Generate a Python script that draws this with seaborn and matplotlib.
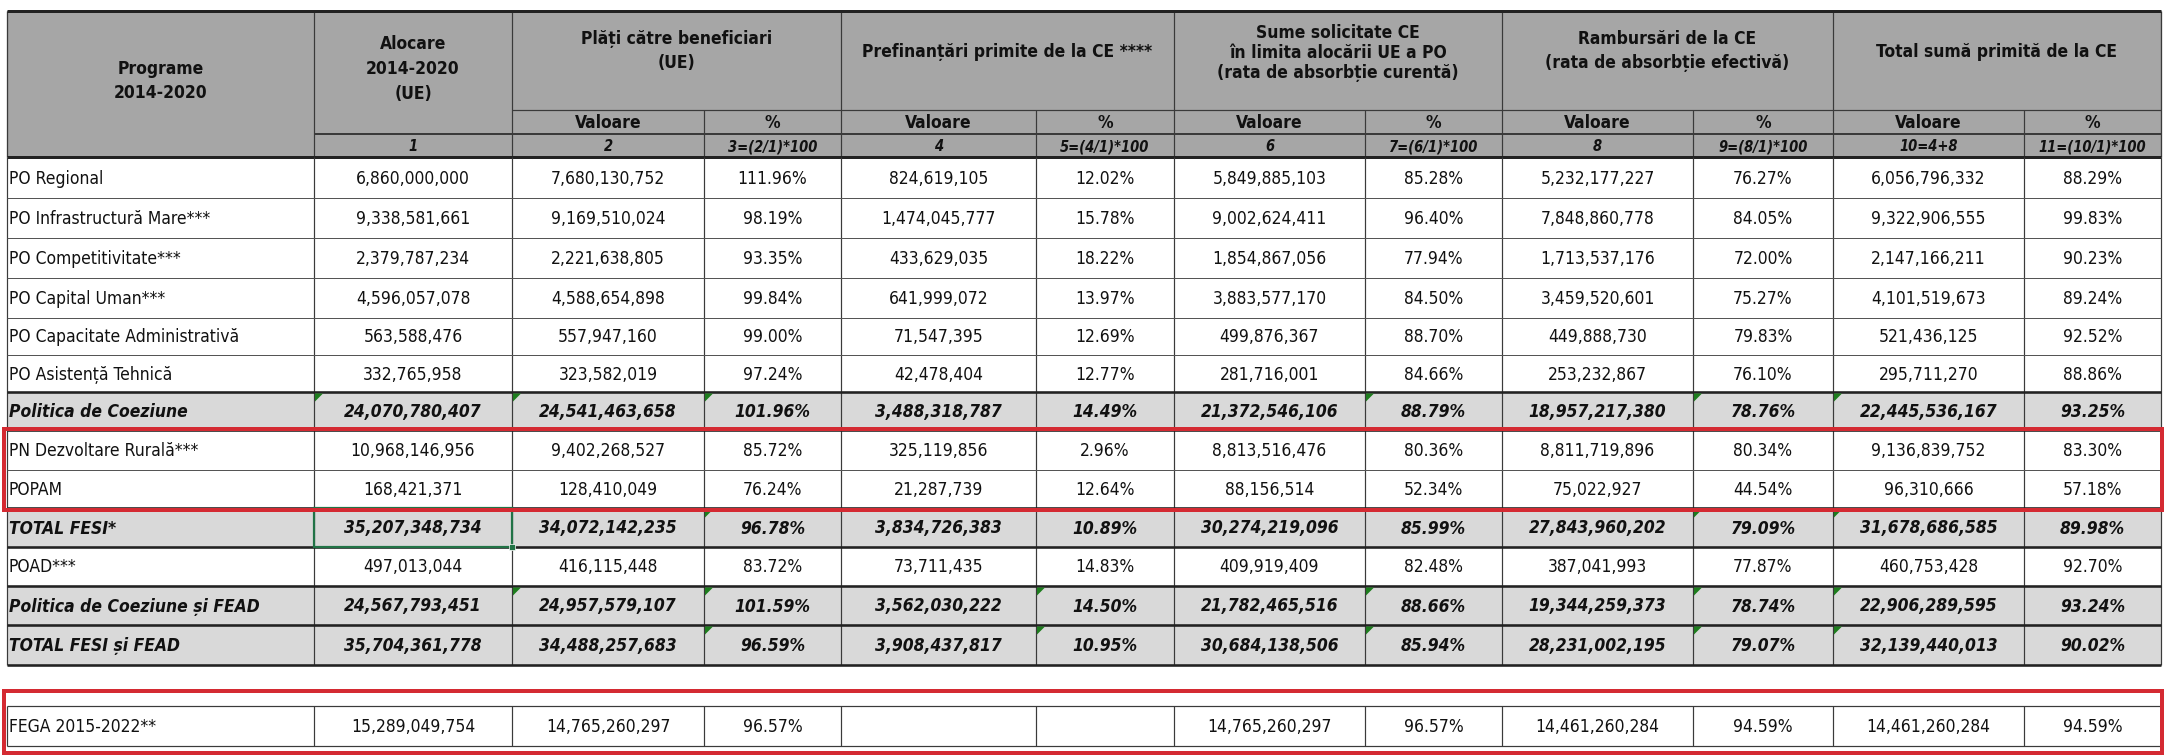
import numpy as np
import pandas as pd
import seaborn as sns
import matplotlib
matplotlib.use("Agg")
import matplotlib.pyplot as plt
from matplotlib import font_manager as fm
from matplotlib.patches import Rectangle, Polygon

# ---------------- data ----------------
programe = ["PO Regional", "PO Infrastructură Mare***", "PO Competitivitate***",
            "PO Capital Uman***", "PO Capacitate Administrativă", "PO Asistență Tehnică",
            "Politica de Coeziune", "PN Dezvoltare Rurală***", "POPAM", "TOTAL FESI*",
            "POAD***", "Politica de Coeziune și FEAD", "TOTAL FESI și FEAD"]
total_rows = ["Politica de Coeziune", "TOTAL FESI*", "Politica de Coeziune și FEAD",
              "TOTAL FESI și FEAD"]

alocare = [6860000000, 9338581661, 2379787234, 4596057078, 563588476, 332765958,
           24070780407, 10968146956, 168421371, 35207348734, 497013044,
           24567793451, 35704361778]
plati_val = [7680130752, 9169510024, 2221638805, 4588654898, 557947160, 323582019,
             24541463658, 9402268527, 128410049, 34072142235, 416115448,
             24957579107, 34488257683]
plati_pct = [111.96, 98.19, 93.35, 99.84, 99.00, 97.24, 101.96, 85.72, 76.24, 96.78,
             83.72, 101.59, 96.59]
pref_val = [824619105, 1474045777, 433629035, 641999072, 71547395, 42478404,
            3488318787, 325119856, 21287739, 3834726383, 73711435, 3562030222,
            3908437817]
pref_pct = [12.02, 15.78, 18.22, 13.97, 12.69, 12.77, 14.49, 2.96, 12.64, 10.89, 14.83,
            14.50, 10.95]
sume_val = [5849885103, 9002624411, 1854867056, 3883577170, 499876367, 281716001,
            21372546106, 8813516476, 88156514, 30274219096, 409919409, 21782465516,
            30684138506]
sume_pct = [85.28, 96.40, 77.94, 84.50, 88.70, 84.66, 88.79, 80.36, 52.34, 85.99, 82.48,
            88.66, 85.94]
ramb_val = [5232177227, 7848860778, 1713537176, 3459520601, 449888730, 253232867,
            18957217380, 8811719896, 75022927, 27843960202, 387041993, 19344259373,
            28231002195]
ramb_pct = [76.27, 84.05, 72.00, 75.27, 79.83, 76.10, 78.76, 80.34, 44.54, 79.09, 77.87,
            78.74, 79.07]
total_val = [6056796332, 9322906555, 2147166211, 4101519673, 521436125, 295711270,
             22445536167, 9136839752, 96310666, 31678686585, 460753428, 22906289595,
             32139440013]
total_pct = [88.29, 99.83, 90.23, 89.24, 92.52, 88.86, 93.25, 83.30, 57.18, 89.98, 92.70,
             93.24, 90.02]

fega_label = "FEGA 2015-2022**"
fega_values = [15289049754, 14765260297, 96.57, None, None, 14765260297, 96.57,
               14461260284, 94.59, 14461260284, 94.59]

group_headers = ["Plăți către beneficiari\n(UE)", "Prefinanțări primite de la CE ****",
                 "Sume solicitate CE\nîn limita alocării UE a PO\n(rata de absorbție curentă)",
                 "Rambursări de la CE\n(rata de absorbție efectivă)",
                 "Total sumă primită de la CE"]
sub_headers = ["Valoare", "%"]
formula_row = ["1", "2", "3=(2/1)*100", "4", "5=(4/1)*100", "6", "7=(6/1)*100", "8",
               "9=(8/1)*100", "10=4+8", "11=(10/1)*100"]

# Excel error-marker corners: (row label, column index)
markers = [("Politica de Coeziune", c) for c in (1, 2, 3, 7, 9, 10)] + \
          [("TOTAL FESI*", c) for c in (3, 9, 10)] + \
          [("Politica de Coeziune și FEAD", c) for c in (2, 3, 5, 7, 9, 10)] + \
          [("TOTAL FESI și FEAD", c) for c in (3, 5, 7, 9, 10)]

df = pd.DataFrame({"program": programe, "alocare": alocare, "plati_val": plati_val,
                   "plati_pct": plati_pct, "pref_val": pref_val, "pref_pct": pref_pct,
                   "sume_val": sume_val, "sume_pct": sume_pct, "ramb_val": ramb_val,
                   "ramb_pct": ramb_pct, "total_val": total_val, "total_pct": total_pct})
value_cols = list(df.columns[1:])

# ---------------- layout ----------------
sns.set_theme(style="white")
names = {f.name for f in fm.fontManager.ttflist}
base = "Liberation Sans Narrow" if "Liberation Sans Narrow" in names else "DejaVu Sans"
plt.rcParams["font.family"] = [base, "DejaVu Sans"]
STRETCH = "normal" if base == "Liberation Sans Narrow" else "condensed"

W, H = 2167, 756
fig = plt.figure(figsize=(W / 100, H / 100), dpi=100)
ax = fig.add_axes([0, 0, 1, 1])
ax.set_xlim(0, W)
ax.set_ylim(H, 0)
ax.axis("off")

xb = [7, 314, 512, 704, 841, 1036, 1174, 1365, 1502, 1693, 1833, 2024, 2161]
y_top, y_grp, y_sub, y_hdr = 11, 110, 134, 157
yb = [157, 198, 238, 278, 318, 355, 392, 430, 470, 508, 547, 586, 625, 665]
fega_y = (706, 746)

HDR_GRAY = "#a6a6a6"
TOT_GRAY = "#d9d9d9"
LINE = "#3a3a3a"
FS = 12.5
px = 0.72  # points per pixel

def px_lw(p):
    return p * px

def txt(x, y, s, ha="center", bold=False, italic=False, size=FS, ls=1.3):
    ax.text(x, y, s, ha=ha, va="center", fontsize=size,
            fontweight="bold" if bold else "normal",
            fontstyle="italic" if italic else "normal",
            fontstretch=STRETCH, color="#111111", linespacing=ls)

def hline(x0, x1, y, w=1.0, c=LINE):
    ax.plot([x0, x1], [y, y], color=c, lw=px_lw(w), solid_capstyle="butt")

def vline(x, y0, y1, w=1.0, c=LINE):
    ax.plot([x, x], [y0, y1], color=c, lw=px_lw(w), solid_capstyle="butt")

# header background
ax.add_patch(Rectangle((xb[0], y_top), xb[-1] - xb[0], y_hdr - y_top,
                       facecolor=HDR_GRAY, edgecolor="none"))

# total rows background
for i, p in enumerate(programe):
    if p in total_rows:
        ax.add_patch(Rectangle((xb[0], yb[i]), xb[-1] - xb[0], yb[i + 1] - yb[i],
                               facecolor=TOT_GRAY, edgecolor="none"))

# header texts
txt((xb[0] + xb[1]) / 2, 81, "Programe\n2014-2020", bold=True, ls=1.4)
txt((xb[1] + xb[2]) / 2, 69, "Alocare\n2014-2020\n(UE)", bold=True, ls=1.5)
hdr_y = [51, 52, 53, 51, 52]
hdr_ls = [1.5, 1.4, 1.12, 1.5, 1.4]
for g, head in enumerate(group_headers):
    x0, x1 = xb[2 + 2 * g], xb[4 + 2 * g]
    txt((x0 + x1) / 2, hdr_y[g], head, bold=True, ls=hdr_ls[g])
    for k, sh in enumerate(sub_headers):
        txt((xb[2 + 2 * g + k] + xb[3 + 2 * g + k]) / 2, (y_grp + y_sub) / 2 + 1, sh,
            bold=True)
for c, f in enumerate(formula_row):
    txt((xb[1 + c] + xb[2 + c]) / 2, (y_sub + y_hdr) / 2 + 1, f, bold=True,
        italic=True, size=10.5)

# header grid
vline(xb[0], y_top, y_hdr, 1.3)
vline(xb[-1], y_top, y_hdr, 1.3)
for j in range(1, len(xb) - 1):
    if j in (1, 2, 4, 6, 8, 10):
        vline(xb[j], y_top, y_hdr, 1.2)
    else:
        vline(xb[j], y_grp, y_hdr, 1.2)
hline(xb[2], xb[-1], y_grp, 1.2)
hline(xb[1], xb[-1], y_sub, 2.0)
hline(xb[0], xb[-1], y_top, 3.0, "#222222")
hline(xb[0], xb[-1], y_hdr, 3.0, "#222222")

# data rows
def fmt(v, pct):
    if v is None:
        return ""
    return f"{v:.2f}%" if pct else f"{v:,.0f}"

for i, row in df.iterrows():
    is_tot = row["program"] in total_rows
    yc = (yb[i] + yb[i + 1]) / 2 + 1
    txt(xb[0] + 2, yc, row["program"], ha="left", bold=is_tot, italic=is_tot)
    for c, col in enumerate(value_cols):
        txt((xb[1 + c] + xb[2 + c]) / 2, yc, fmt(row[col], col.endswith("pct")),
            bold=is_tot, italic=is_tot)

for j in range(len(xb)):
    vline(xb[j], yb[0], yb[-1], 1.2)
for i in range(1, len(yb)):
    thick = (programe[i - 1] in total_rows) or (i < len(programe) and programe[i] in total_rows)
    hline(xb[0], xb[-1], yb[i], 2.6 if thick else 1.0, "#222222" if thick else "#555555")

# FEGA row
fy = (fega_y[0] + fega_y[1]) / 2 + 1
txt(xb[0] + 2, fy, fega_label, ha="left")
for c, v in enumerate(fega_values):
    txt((xb[1 + c] + xb[2 + c]) / 2, fy, fmt(v, c in (2, 4, 6, 8, 10)))
for j in range(len(xb)):
    vline(xb[j], fega_y[0], fega_y[1], 1.2)
hline(xb[0], xb[-1], fega_y[0], 1.2)
hline(xb[0], xb[-1], fega_y[1], 1.2)

# green error markers
for lab, c in markers:
    i = programe.index(lab)
    x0, y0 = xb[c], yb[i] + 1.5
    ax.add_patch(Polygon([[x0 + 1, y0], [x0 + 9, y0], [x0 + 1, y0 + 8]],
                         closed=True, facecolor="#1e7d1e", edgecolor="none", zorder=5))

# Excel selection box around TOTAL FESI alocare
i = programe.index("TOTAL FESI*")
ax.add_patch(Rectangle((xb[1], yb[i]), xb[2] - xb[1], yb[i + 1] - yb[i],
                       facecolor="none", edgecolor="#217346", lw=px_lw(2.2), zorder=6))
ax.add_patch(Rectangle((xb[2] - 3, yb[i + 1] - 3), 6, 6, facecolor="#217346",
                       edgecolor="white", lw=0.5, zorder=7))

# red highlight boxes
RED = "#d42a32"
i0 = programe.index("PN Dezvoltare Rurală***")
ax.add_patch(Rectangle((4, yb[i0] - 1), 2158, yb[i0 + 2] - yb[i0] + 3,
                       facecolor="none", edgecolor=RED, lw=px_lw(4), zorder=8))
ax.add_patch(Rectangle((4, 691), 2158, 62, facecolor="none", edgecolor=RED,
                       lw=px_lw(4), zorder=8))

fig.savefig("out.png", dpi=100)
